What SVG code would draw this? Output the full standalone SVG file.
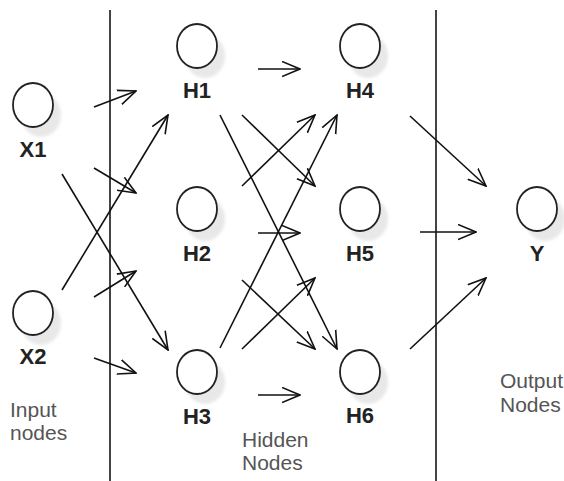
<svg xmlns="http://www.w3.org/2000/svg" width="564" height="481" viewBox="0 0 564 481">
<style>
.node{fill:#fff;stroke:#222;stroke-width:1.8}
.shadow{fill:#e8e8e8;filter:url(#blur)}
.lbl{font-family:"Liberation Sans",Arial,sans-serif;font-size:22px;font-weight:bold;fill:#222;text-anchor:middle}
.cap{font-family:"Liberation Sans",Arial,sans-serif;font-size:21px;fill:#555}
.edge{stroke:#111;stroke-width:1.6;fill:none;marker-end:url(#arr)}
.div{stroke:#444;stroke-width:2}
</style>
<defs>
<filter id="blur" x="-50%" y="-50%" width="200%" height="200%"><feGaussianBlur stdDeviation="1.5"/></filter>
<marker id="arr" viewBox="0 0 19 17" refX="18" refY="8.5" markerWidth="19" markerHeight="17" markerUnits="userSpaceOnUse" orient="auto">
<path d="M0,1 L18,8.5 L0,16" fill="none" stroke="#111" stroke-width="1.6"/>
</marker>
</defs>
<rect width="564" height="481" fill="#fff"/>
<g id="dividers">
<line class="div" x1="110" y1="10" x2="110" y2="481"/>
<line class="div" x1="436" y1="10" x2="436" y2="481"/>
</g>
<g id="connectors">
<line class="edge" x1="94" y1="107" x2="136" y2="91"/>
<line class="edge" x1="62" y1="290" x2="168" y2="115"/>
<line class="edge" x1="94" y1="168" x2="136" y2="193"/>
<line class="edge" x1="62" y1="174" x2="168" y2="350"/>
<line class="edge" x1="94" y1="297" x2="136" y2="271"/>
<line class="edge" x1="94" y1="358" x2="136" y2="373"/>
<line class="edge" x1="258" y1="69" x2="300" y2="69"/>
<line class="edge" x1="258" y1="233" x2="300" y2="233"/>
<line class="edge" x1="258" y1="395" x2="300" y2="395"/>
<line class="edge" x1="242" y1="115" x2="315" y2="186"/>
<line class="edge" x1="220" y1="115" x2="337" y2="349"/>
<line class="edge" x1="242" y1="186" x2="315" y2="115"/>
<line class="edge" x1="220" y1="348" x2="337" y2="115"/>
<line class="edge" x1="242" y1="280" x2="315" y2="349"/>
<line class="edge" x1="242" y1="349" x2="315" y2="278"/>
<line class="edge" x1="410" y1="116" x2="486" y2="186"/>
<line class="edge" x1="420" y1="232" x2="476" y2="232"/>
<line class="edge" x1="410" y1="349" x2="486" y2="278"/>
</g>
<g id="X1"><ellipse class="shadow" cx="41" cy="115" rx="20" ry="22"/><ellipse class="node" cx="33" cy="105" rx="20" ry="22"/><text class="lbl" x="33" y="157">X1</text></g>
<g id="X2"><ellipse class="shadow" cx="41" cy="323" rx="20" ry="22"/><ellipse class="node" cx="33" cy="313" rx="20" ry="22"/><text class="lbl" x="33" y="364">X2</text></g>
<g id="H1"><ellipse class="shadow" cx="205" cy="56" rx="20" ry="22"/><ellipse class="node" cx="197" cy="46" rx="20" ry="22"/><text class="lbl" x="197" y="98">H1</text></g>
<g id="H2"><ellipse class="shadow" cx="205" cy="219" rx="20" ry="22"/><ellipse class="node" cx="197" cy="209" rx="20" ry="22"/><text class="lbl" x="197" y="261">H2</text></g>
<g id="H3"><ellipse class="shadow" cx="205" cy="382" rx="20" ry="22"/><ellipse class="node" cx="197" cy="372" rx="20" ry="22"/><text class="lbl" x="197" y="424">H3</text></g>
<g id="H4"><ellipse class="shadow" cx="368" cy="56" rx="20" ry="22"/><ellipse class="node" cx="360" cy="46" rx="20" ry="22"/><text class="lbl" x="360" y="98">H4</text></g>
<g id="H5"><ellipse class="shadow" cx="368" cy="219" rx="20" ry="22"/><ellipse class="node" cx="360" cy="209" rx="20" ry="22"/><text class="lbl" x="360" y="261">H5</text></g>
<g id="H6"><ellipse class="shadow" cx="368" cy="382" rx="20" ry="22"/><ellipse class="node" cx="360" cy="372" rx="20" ry="22"/><text class="lbl" x="360" y="423">H6</text></g>
<g id="Y"><ellipse class="shadow" cx="545" cy="219" rx="20" ry="22"/><ellipse class="node" cx="537" cy="209" rx="20" ry="22"/><text class="lbl" x="537" y="261">Y</text></g>
<g id="captions">
<text class="cap" x="10" y="417">Input</text>
<text class="cap" x="10" y="440">nodes</text>
<text class="cap" x="242" y="447">Hidden</text>
<text class="cap" x="242" y="470">Nodes</text>
<text class="cap" x="500" y="388">Output</text>
<text class="cap" x="500" y="412">Nodes</text>
</g>
</svg>
